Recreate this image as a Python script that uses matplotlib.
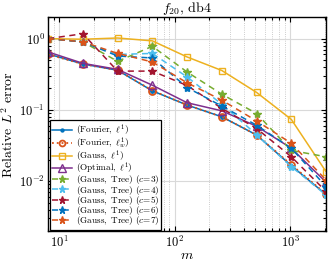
import matplotlib
matplotlib.use("Agg")
import matplotlib.pyplot as plt
from matplotlib.ticker import LogLocator, NullFormatter

plt.rcParams['font.family'] = 'serif'
plt.rcParams['font.serif'] = ['cmr10']
plt.rcParams['mathtext.fontset'] = 'cm'
plt.rcParams['axes.formatter.use_mathtext'] = True

# data
m = [8, 16, 32, 64, 128, 256, 512, 1024, 2048]
fourier_l1 = [0.61, 0.44, 0.36, 0.185, 0.117, 0.080, 0.0445, 0.0165, 0.0065]
fourier_l1w = [0.60, 0.44, 0.36, 0.187, 0.117, 0.080, 0.0445, 0.017, 0.0066]
gauss_l1 = [1.0, 0.98, 1.02, 0.93, 0.553, 0.357, 0.176, 0.0736, 0.0136]
optimal_l1 = [0.65, 0.45, 0.37, 0.222, 0.126, 0.097, 0.059, 0.029, 0.0097]
tree_c3 = [1.0, 0.9, 0.48, 0.78, 0.34, 0.166, 0.089, 0.027, 0.022]
tree_c4 = [1.0, 0.9, 0.60, 0.62, 0.29, 0.12, 0.045, 0.016, 0.0064]
tree_c5 = [1.0, 1.17, 0.35, 0.35, 0.22, 0.105, 0.055, 0.022, 0.0072]
tree_c6 = [1.0, 0.9, 0.57, 0.535, 0.206, 0.113, 0.061, 0.029, 0.0084]
tree_c7 = [1.0, 0.9, 0.62, 0.47, 0.24, 0.137, 0.070, 0.034, 0.0104]

# matlab default colours
c_blue = '#0072BD'
c_orange = '#D95319'
c_yellow = '#EDB120'
c_purple = '#7E2F8E'
c_green = '#77AC30'
c_cyan = '#4DBEEE'
c_red = '#A2142F'

fig, ax = plt.subplots(figsize=(3.32, 2.64), dpi=100)
fig.subplots_adjust(left=0.145, right=0.982, top=0.935, bottom=0.125)

lw = 1.1
ax.plot(m, fourier_l1, '-', color=c_blue, marker='.', ms=5, lw=lw,
        label=r'$\mathrm{(Fourier,\ }\ell^1\mathrm{)}$')
ax.plot(m, fourier_l1w, ':', color=c_orange, marker='o', ms=5, mfc='none',
        mew=1.3, lw=1.3, label=r'$\mathrm{(Fourier,\ }\ell^1_w\mathrm{)}$')
ax.plot(m, gauss_l1, '-', color=c_yellow, marker='s', ms=5, mfc='none',
        mew=1.0, lw=lw, label=r'$\mathrm{(Gauss,\ }\ell^1\mathrm{)}$')
ax.plot(m, optimal_l1, '-', color=c_purple, marker='^', ms=6, mfc='none',
        mew=1.0, lw=lw, label=r'$\mathrm{(Optimal,\ }\ell^1\mathrm{)}$')

trees = [(tree_c3, c_green, 3), (tree_c4, c_cyan, 4), (tree_c5, c_red, 5),
         (tree_c6, c_blue, 6), (tree_c7, c_orange, 7)]
for vals, col, c in trees:
    ax.plot(m, vals, '--', color=col, marker='*', ms=6, lw=lw,
            dashes=(4, 3),
            label=r'$\mathrm{(Gauss,\ Tree)\ (}c\!=\!%d\mathrm{)}$' % c)

ax.set_xscale('log')
ax.set_yscale('log')
ax.set_xlim(8, 2048)
ax.set_ylim(0.002, 2)
ax.xaxis.set_minor_locator(LogLocator(base=10, subs=range(2, 10)))
ax.xaxis.set_minor_formatter(NullFormatter())
ax.yaxis.set_minor_formatter(NullFormatter())

ax.grid(True, which='major', color='#d9d9d9', lw=0.8)
ax.grid(True, which='minor', axis='x', color='#bbbbbb', lw=0.6, ls=':')
ax.set_axisbelow(True)

ax.tick_params(which='both', direction='in', top=True, right=True,
               labelsize=9, width=0.8, pad=2.5)
ax.tick_params(which='major', length=3.5)
ax.tick_params(which='minor', length=2)
for s in ax.spines.values():
    s.set_linewidth(1.0)

ax.set_title(r'$f_{20}$, db4', fontsize=10, pad=3)
ax.set_xlabel(r'$m$', fontsize=10, labelpad=0)
ax.set_ylabel(r'Relative $L^2$ error', fontsize=10, labelpad=2)

# mathtext boxes are tall, so rows are pulled together a bit
leg = ax.legend(loc='lower left', fontsize=6.6, fancybox=False,
                edgecolor='black', framealpha=1, borderaxespad=0.15,
                handlelength=2.2, handletextpad=0.4, labelspacing=-0.3,
                borderpad=0.25, markerscale=0.85)
leg.get_frame().set_linewidth(0.9)

fig.savefig('out.png', dpi=100)
